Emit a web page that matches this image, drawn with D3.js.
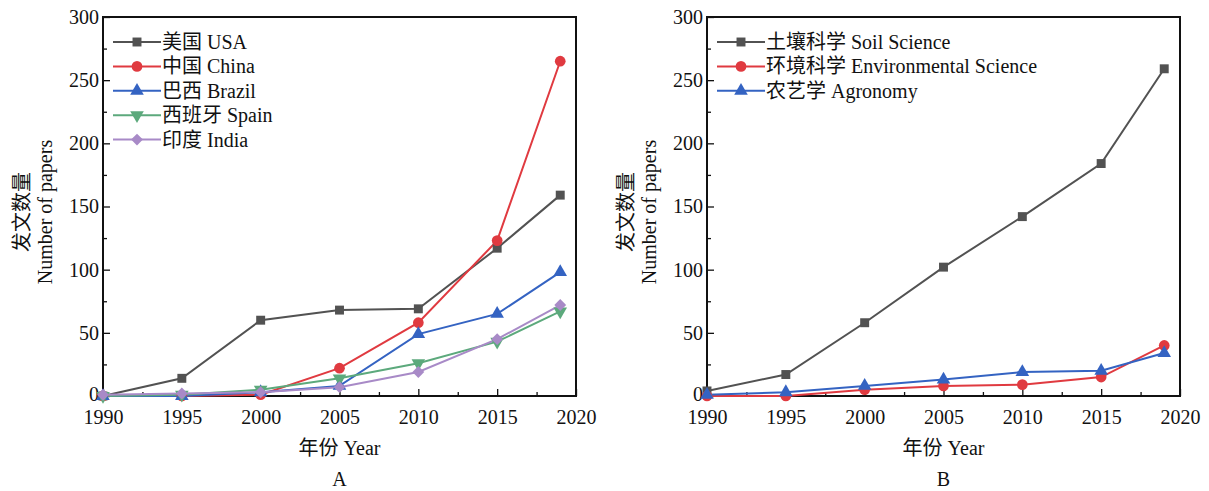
<!DOCTYPE html>
<html>
<head>
<meta charset="utf-8">
<script src="https://cdn.jsdelivr.net/npm/d3@7"></script>
<style>
  body { margin: 0; background: #fff; }
  text { font-family: "Liberation Serif", "Noto Sans CJK SC", serif; fill: #111; }
</style>
</head>
<body>
<svg id="chart" width="1209" height="491"></svg>
<script>
const years = [1990, 1995, 2000, 2005, 2010, 2015, 2019];

// panel A: countries
const usa = [0, 14, 60, 68, 69, 117, 159];
const china = [0, 0, 1, 22, 58, 123, 265];
const brazil = [0, 0, 3, 8, 49, 65, 98];
const spain = [0, 1, 5, 14, 26, 43, 67];
const india = [1, 2, 3, 7, 19, 45, 72];

// panel B: subject areas
const soil = [4, 17, 58, 102, 142, 184, 259];
const environ = [0, 0, 5, 8, 9, 15, 40];
const agronomy = [1, 3, 8, 13, 19, 20, 34];

const xTicks = [1990, 1995, 2000, 2005, 2010, 2015, 2020];
const yTicks = [0, 50, 100, 150, 200, 250, 300];

const seriesA = [
  {name: '美国 USA', values: usa, color: '#525252', symbol: 'square'},
  {name: '中国 China', values: china, color: '#e03a40', symbol: 'circle'},
  {name: '巴西 Brazil', values: brazil, color: '#3463c2', symbol: 'triangle'},
  {name: '西班牙 Spain', values: spain, color: '#5ca97c', symbol: 'triangleDown'},
  {name: '印度 India', values: india, color: '#a88ac7', symbol: 'diamond'}
];
const seriesB = [
  {name: '土壤科学 Soil Science', values: soil, color: '#525252', symbol: 'square'},
  {name: '环境科学 Environmental Science', values: environ, color: '#e03a40', symbol: 'circle'},
  {name: '农艺学 Agronomy', values: agronomy, color: '#3463c2', symbol: 'triangle'}
];

const svgTop = 17, svgBottom = 396;
const serif = '"Liberation Serif", "Times New Roman", "Noto Sans CJK SC", serif';


function symbolPath(kind) {
  const types = {
    square: [d3.symbolSquare, 80],
    circle: [d3.symbolCircle, 90],
    triangle: [d3.symbolTriangle, 80],
    triangleDown: [d3.symbolTriangle, 80],
    diamond: [d3.symbolSquare, 70]
  };
  const t = types[kind];
  return d3.symbol().type(t[0]).size(t[1])();
}


function drawMarker(g, kind, x, y, color) {
  let rot = '';
  if (kind === 'triangleDown') rot = ' rotate(180)';
  if (kind === 'diamond') rot = ' rotate(45)';
  g.append('path')
    .attr('d', symbolPath(kind))
    .attr('transform', `translate(${x},${y})` + rot)
    .style('fill', color);
}


function drawPanel(svg, left, right, series, letter) {
  const x = d3.scaleLinear().domain([1990, 2020]).range([left, right]);
  const y = d3.scaleLinear().domain([0, 300]).range([svgBottom, svgTop]);
  const g = svg.append('g');

  // ticks, all pointing inward
  const minorX = d3.range(1992.5, 2020, 5);
  const minorY = d3.range(25, 300, 50);
  const bottom = g.append('g').attr('transform', `translate(0,${svgBottom})`)
    .call(d3.axisBottom(x).tickValues(xTicks).tickSize(-7).tickFormat(d3.format('d')).tickPadding(14));
  bottom.append('g')
    .call(d3.axisBottom(x).tickValues(minorX).tickSize(-4).tickFormat(''));
  const leftAx = g.append('g').attr('transform', `translate(${left},0)`)
    .call(d3.axisLeft(y).tickValues(yTicks).tickSize(-7).tickPadding(6));
  leftAx.append('g')
    .call(d3.axisLeft(y).tickValues(minorY).tickSize(-4).tickFormat(''));
  [bottom, leftAx].forEach(a => a.attr('font-family', serif).attr('font-size', 20));
  g.selectAll('.domain').remove();
  g.selectAll('.tick line').style('stroke', '#111').style('stroke-width', 1.3);
  g.selectAll('.tick text')
    .attr('font-family', serif)
    .style('font-family', serif)
    .style('font-size', '20px')
    .style('fill', '#111');
  leftAx.selectAll('.tick text').attr('x', -4);
  leftAx.selectAll('.tick').filter(d => d === 0).select('text').attr('dy', '0.2em');

  // frame
  g.append('rect')
    .attr('x', left).attr('y', svgTop)
    .attr('width', right - left).attr('height', svgBottom - svgTop)
    .style('fill', 'none').style('stroke', '#111').style('stroke-width', 2);

  // lines and markers
  const line = d3.line().x((d, i) => x(years[i])).y(d => y(d));
  series.forEach(s => {
    g.append('path')
      .datum(s.values)
      .attr('d', line)
      .style('fill', 'none')
      .style('stroke', s.color)
      .style('stroke-width', 2);
  });
  series.forEach(s => {
    s.values.forEach((v, i) => drawMarker(g, s.symbol, x(years[i]), y(v), s.color));
  });

  // legend
  const lx = left + 10;
  series.forEach((s, i) => {
    const ly = 42 + i * 24.4;
    g.append('line')
      .attr('x1', lx).attr('x2', lx + 48).attr('y1', ly).attr('y2', ly)
      .style('stroke', s.color).style('stroke-width', 2);
    drawMarker(g, s.symbol, lx + 24, ly, s.color);
    g.append('text')
      .attr('x', lx + 49).attr('y', ly + 7)
      .style('font-size', '20px')
      .text(s.name);
  });

  // axis titles
  const cx = (left + right) / 2;
  g.append('text')
    .attr('x', cx).attr('y', 455)
    .attr('text-anchor', 'middle')
    .style('font-size', '20px')
    .text('年份 Year');
  g.append('text')
    .attr('x', cx).attr('y', 486)
    .attr('text-anchor', 'middle')
    .style('font-size', '20px')
    .text(letter);
  const yt = g.append('text')
    .attr('transform', `translate(${left - 74},212) rotate(-90)`)
    .attr('text-anchor', 'middle')
    .style('font-size', '20px');
  yt.append('tspan').attr('x', 0).attr('dy', 0).text('发文数量');
  yt.append('tspan').attr('x', 0).attr('dy', 23).text('Number of papers');
}


const svg = d3.select('#chart');
drawPanel(svg, 103, 576, seriesA, 'A');
drawPanel(svg, 707, 1180, seriesB, 'B');
</script>
</body>
</html>
